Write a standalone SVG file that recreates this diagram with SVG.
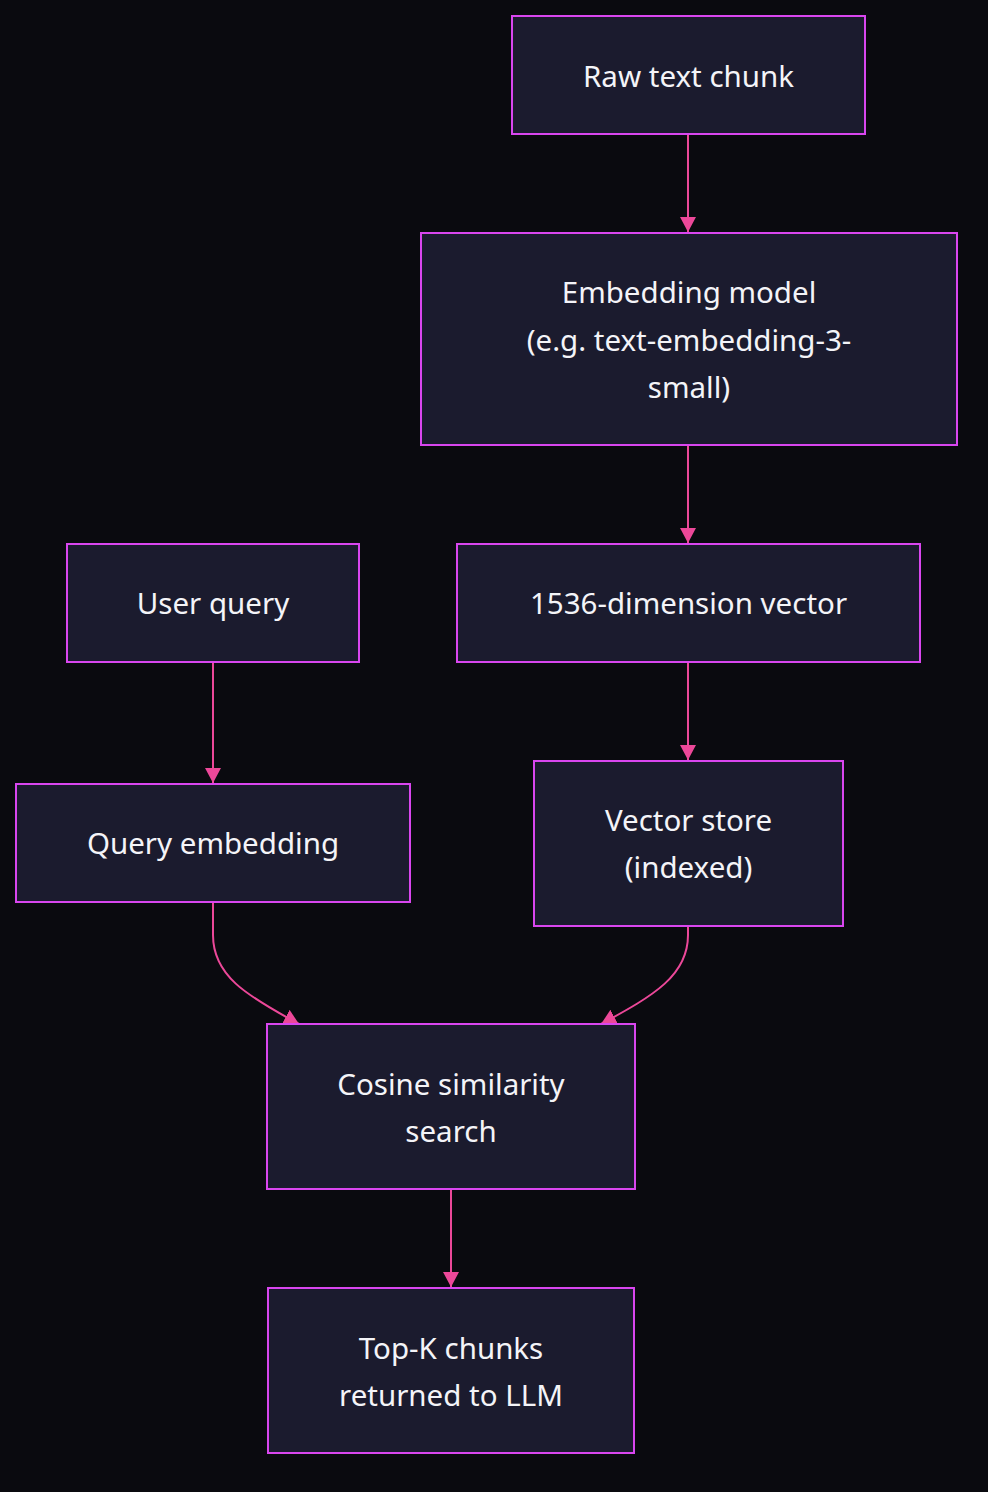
<svg xmlns="http://www.w3.org/2000/svg" width="988" height="1492" viewBox="0 0 988 1492">
<style>
.node rect{fill:#1b1b2e;stroke:#d946ef;stroke-width:2}
.node text{fill:#f4f4f8;font-family:"Noto Sans","Open Sans","Liberation Sans",sans-serif;font-size:29.5px;text-anchor:middle;dominant-baseline:central}
.edges path{fill:none;stroke:#ec4899;stroke-width:2}
</style>
<defs>
<marker id="arr" markerUnits="userSpaceOnUse" markerWidth="18" markerHeight="18" refX="15" refY="8" orient="auto">
<path d="M0,0 L15,8 L0,16 Z" fill="#ec4899"/>
</marker>
</defs>
<rect width="988" height="1492" fill="#0a0a0f"/>
<g class="edges">
<path d="M688,134 V232" marker-end="url(#arr)"/>
<path d="M688,445 V543" marker-end="url(#arr)"/>
<path d="M688,662 V760" marker-end="url(#arr)"/>
<path d="M213,662 V783" marker-end="url(#arr)"/>
<path d="M213,902 V935 C213,975 245,995 299,1024" marker-end="url(#arr)"/>
<path d="M688,926 V935 C688,975 655,995 601,1024" marker-end="url(#arr)"/>
<path d="M451,1189 V1287" marker-end="url(#arr)"/>
</g>
<g id="raw" class="node"><rect x="512" y="16" width="353" height="118"/><text x="688.5" y="75">Raw text chunk</text></g>
<g id="embed" class="node"><rect x="421" y="233" width="536" height="212"/><text x="689" y="291">Embedding model</text><text x="689" y="339">(e.g. text-embedding-3-</text><text x="689" y="386">small)</text></g>
<g id="user" class="node"><rect x="67" y="544" width="292" height="118"/><text x="213" y="602">User query</text></g>
<g id="vec" class="node"><rect x="457" y="544" width="463" height="118"/><text x="688.5" y="602">1536-dimension vector</text></g>
<g id="qemb" class="node"><rect x="16" y="784" width="394" height="118"/><text x="213" y="842">Query embedding</text></g>
<g id="store" class="node"><rect x="534" y="761" width="309" height="165"/><text x="688.5" y="819">Vector store</text><text x="688.5" y="866">(indexed)</text></g>
<g id="cos" class="node"><rect x="267" y="1024" width="368" height="165"/><text x="451" y="1083">Cosine similarity</text><text x="451" y="1130">search</text></g>
<g id="topk" class="node"><rect x="268" y="1288" width="366" height="165"/><text x="451" y="1347">Top-K chunks</text><text x="451" y="1394">returned to LLM</text></g>
</svg>
